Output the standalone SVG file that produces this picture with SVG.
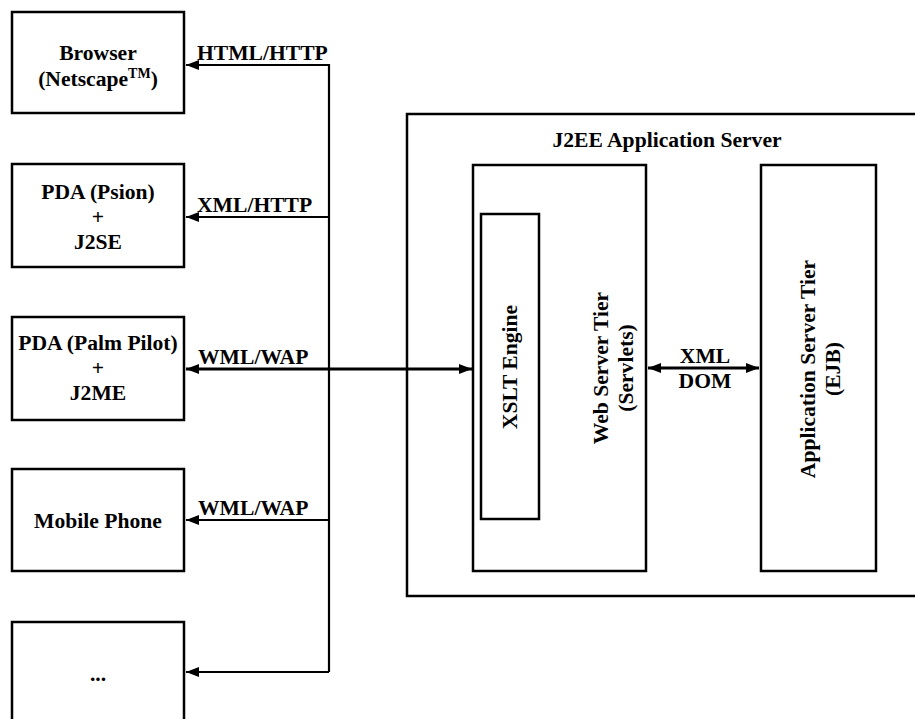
<svg xmlns="http://www.w3.org/2000/svg" width="915" height="719" viewBox="0 0 915 719">
<style>
.box{fill:#fff;stroke:#000;stroke-width:2.5}
.t{font-family:"Liberation Serif","Times New Roman",serif;font-weight:bold;font-size:21.6px;fill:#000;text-anchor:middle}
.tl{font-family:"Liberation Serif","Times New Roman",serif;font-weight:bold;font-size:21.6px;fill:#000;text-anchor:start}
.c{fill:none;stroke:#000;stroke-width:2.2}
.cb{fill:none;stroke:#000;stroke-width:3}
</style>
<defs>
<marker id="ah" markerUnits="userSpaceOnUse" viewBox="0 0 13 10" refX="13" refY="5" markerWidth="13" markerHeight="10" orient="auto-start-reverse">
<path d="M0,0 L13,5 L0,10 Z" fill="#000"/>
</marker>
</defs>
<rect width="915" height="719" fill="#fff"/>
<g id="browser">
<rect class="box" x="12" y="12" width="172" height="101"/>
<text class="t" x="98" y="60">Browser</text>
<text class="t" x="98" y="86">(Netscape<tspan font-size="14" dy="-8">TM</tspan><tspan dy="8">)</tspan></text>
</g>
<g id="psion">
<rect class="box" x="12" y="164" width="172" height="103"/>
<text class="t" x="98" y="199">PDA (Psion)</text>
<text class="t" x="98" y="224">+</text>
<text class="t" x="98" y="249">J2SE</text>
</g>
<g id="palm">
<rect class="box" x="12" y="317" width="172" height="103"/>
<text class="t" x="98" y="350">PDA (Palm Pilot)</text>
<text class="t" x="98" y="375">+</text>
<text class="t" x="98" y="400">J2ME</text>
</g>
<g id="mobile">
<rect class="box" x="12" y="469" width="172" height="102"/>
<text class="t" x="98" y="528">Mobile Phone</text>
</g>
<g id="more">
<rect class="box" x="12" y="622" width="172" height="110"/>
<text class="t" x="98" y="681">...</text>
</g>
<g id="server">
<rect class="box" x="407" y="114" width="530" height="482"/>
<text class="t" x="667" y="147">J2EE Application Server</text>
</g>
<g id="webtier">
<rect class="box" x="473" y="165" width="173" height="406"/>
<text class="t" transform="translate(608,368) rotate(-90)">Web Server Tier</text>
<text class="t" transform="translate(633,368) rotate(-90)">(Servlets)</text>
</g>
<g id="xslt">
<rect class="box" x="481" y="214" width="58" height="305"/>
<text class="t" transform="translate(517,367) rotate(-90)">XSLT Engine</text>
</g>
<g id="apptier">
<rect class="box" x="761" y="165" width="115" height="406"/>
<text class="t" transform="translate(815,369) rotate(-90)">Application Server Tier</text>
<text class="t" transform="translate(840,369) rotate(-90)">(EJB)</text>
</g>
<g id="connectors">
<path class="c" d="M329,672 V65 H186" marker-end="url(#ah)"/>
<path class="c" d="M329,217 H186" marker-end="url(#ah)"/>
<path class="c" d="M329,520 H186" marker-end="url(#ah)"/>
<path class="c" d="M329,672 H186" marker-end="url(#ah)"/>
<path class="cb" d="M186,369 H472" marker-start="url(#ah)" marker-end="url(#ah)"/>
<path class="cb" d="M648,368 H759" marker-start="url(#ah)" marker-end="url(#ah)"/>
<text class="tl" x="197" y="60">HTML/HTTP</text>
<text class="tl" x="197" y="212">XML/HTTP</text>
<text class="tl" x="198" y="364">WML/WAP</text>
<text class="tl" x="198" y="515">WML/WAP</text>
<text class="t" x="705" y="363">XML</text>
<text class="t" x="705" y="388">DOM</text>
</g>
</svg>
